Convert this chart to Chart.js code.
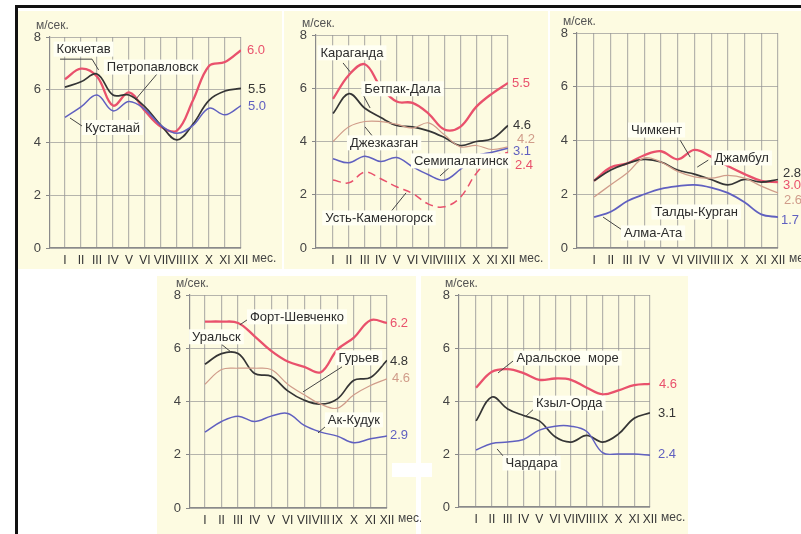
<!DOCTYPE html>
<html><head><meta charset="utf-8">
<script src="https://cdn.jsdelivr.net/npm/chart.js@4"></script>
<style>
html,body{margin:0;padding:0;background:#fff;width:801px;height:534px;overflow:hidden;position:relative;}
.bg{position:absolute;background:#fdfbe1;}
.rule{position:absolute;background:#111;}
canvas{position:absolute;}
</style></head><body>
<div class="rule" style="left:15px;top:5px;width:786px;height:3px"></div>
<div class="rule" style="left:15px;top:5px;width:3px;height:529px"></div>
<div class="bg" style="left:18px;top:11px;width:264px;height:258px"></div>
<div class="bg" style="left:284px;top:11px;width:264px;height:258px"></div>
<div class="bg" style="left:550px;top:11px;width:251px;height:258px"></div>
<div class="bg" style="left:157px;top:276px;width:259px;height:258px"></div>
<div class="bg" style="left:421px;top:276px;width:267px;height:258px"></div>
<div style="position:absolute;left:392px;top:463px;width:40px;height:14px;background:#fff"></div>
<canvas id="p1" width="263" height="256" style="left:20px;top:12px"></canvas>
<canvas id="p2" width="264" height="256" style="left:284px;top:12px"></canvas>
<canvas id="p3" width="252" height="256" style="left:549px;top:12px"></canvas>
<canvas id="p4" width="264" height="258" style="left:157px;top:276px"></canvas>
<canvas id="p5" width="268" height="258" style="left:420px;top:276px"></canvas>
<script>
// Months and value axis
const months = ['I','II','III','IV','V','VI','VII','VIII','IX','X','XI','XII'];
const yTickValues = [0, 2, 4, 6, 8];

// Monthly mean wind speed, m/s
const kokchetav      = [6.4, 6.8, 6.5, 5.4, 5.9, 5.2, 4.6, 4.45, 5.6, 6.9, 7.05, 7.5];
const petropavlovsk  = [6.1, 6.3, 6.6, 5.8, 5.8, 5.35, 4.65, 4.1, 4.7, 5.6, 5.95, 6.05];
const kustanai       = [4.95, 5.35, 5.8, 5.2, 5.55, 5.25, 4.65, 4.35, 4.65, 5.3, 5.05, 5.4];
const means1 = ['6.0', '5.5', '5.0'];

const karaganda      = [5.6, 6.5, 6.9, 6.05, 5.5, 5.45, 5.05, 4.45, 4.55, 5.3, 5.8, 6.2];
const betpakDala     = [5.05, 5.8, 5.25, 4.9, 4.6, 4.55, 4.4, 4.15, 3.85, 4.0, 4.1, 4.6];
const dzhezkazgan    = [4.0, 4.55, 4.75, 4.75, 4.65, 4.5, 4.7, 4.25, 3.8, 3.85, 3.7, 3.8];
const semipalatinsk  = [3.35, 3.2, 3.45, 3.25, 3.4, 3.05, 2.75, 2.55, 2.95, 3.45, 3.6, 3.75];
const ustKamenogorsk = [2.55, 2.45, 2.85, 2.6, 2.3, 2.05, 1.65, 1.55, 1.9, 2.8, 3.4, 3.6];
const means2 = ['5.5', '4.6', '4.2', '3.1', '2.4'];

const chimkent       = [2.5, 3.0, 3.15, 3.45, 3.6, 3.3, 3.65, 3.4, 3.05, 2.75, 2.5, 2.45];
const dzhambul       = [2.5, 2.9, 3.15, 3.3, 3.2, 2.9, 2.75, 2.55, 2.35, 2.55, 2.45, 2.55];
const taldyKurgan    = [1.9, 2.35, 2.8, 3.35, 3.2, 2.85, 2.65, 2.6, 2.7, 2.6, 2.3, 2.05];
const almaAta        = [1.15, 1.35, 1.75, 2.0, 2.2, 2.3, 2.35, 2.25, 2.05, 1.7, 1.25, 1.15];
const means3 = ['2.8', '3.0', '2.6', '1.7'];

const fortShevchenko = [7.0, 7.0, 6.95, 6.45, 5.9, 5.5, 5.3, 5.1, 5.95, 6.4, 7.05, 6.95];
const uralsk         = [5.4, 5.8, 5.8, 5.05, 4.95, 4.4, 4.05, 3.9, 4.1, 4.8, 4.9, 5.55];
const guryev         = [4.65, 5.2, 5.25, 5.25, 5.2, 4.65, 4.25, 3.9, 3.75, 4.25, 4.6, 4.85];
const akKuduk        = [2.85, 3.25, 3.45, 3.25, 3.45, 3.55, 3.1, 2.85, 2.7, 2.45, 2.6, 2.7];
const means4 = ['6.2', '4.8', '4.6', '2.9'];

const aralSea        = [4.5, 5.1, 5.2, 5.05, 4.8, 4.85, 4.8, 4.5, 4.25, 4.4, 4.6, 4.65];
const kzylOrda       = [3.25, 4.15, 3.7, 3.45, 3.25, 2.65, 2.45, 2.7, 2.45, 2.75, 3.35, 3.55];
const chardara       = [2.15, 2.4, 2.45, 2.55, 2.9, 3.05, 3.05, 2.85, 2.05, 2.0, 2.0, 1.95];
const means5 = ['4.6', '3.1', '2.4'];

const RED = '#e9516c', BLACK = '#353535', BLUE = '#6060c0', TAN = '#d09c8a';
const FONT = "'Liberation Sans', Arial, sans-serif";

function series(label, values, color, width, dash) {
  return {
    label, data: values.map((v, i) => ({x: i + 1, y: v})),
    borderColor: color, borderWidth: width, borderDash: dash || [],
    pointRadius: 0, tension: 0.38, fill: false
  };
}

// Station names with leader lines, annual means at line ends, axis captions
function textLayer(notes, ends) {
  return {
    id: 'textLayer',
    afterDatasetsDraw(chart) {
      const {ctx, chartArea: a, scales: {x, y}} = chart;
      ctx.save();
      ctx.textBaseline = 'middle';
      notes.forEach(n => {
        if (n.lead) {
          ctx.beginPath();
          n.lead.forEach((p, i) => {
            const px = x.getPixelForValue(p[0]), py = y.getPixelForValue(p[1]);
            i ? ctx.lineTo(px, py) : ctx.moveTo(px, py);
          });
          ctx.strokeStyle = '#444'; ctx.lineWidth = 1; ctx.stroke();
        }
      });
      ctx.font = '13px ' + FONT;
      notes.forEach(n => {
        const cx = x.getPixelForValue(n.x), cy = y.getPixelForValue(n.y);
        const w = ctx.measureText(n.text).width;
        ctx.fillStyle = '#fffff4';
        ctx.fillRect(cx - w / 2 - 3, cy - 7.5, w + 6, 15);
        ctx.fillStyle = '#2c2c2c';
        ctx.textAlign = 'center';
        ctx.fillText(n.text, cx, cy + 0.5);
      });
      ctx.textAlign = 'left';
      ends.forEach(e => {
        ctx.fillStyle = e.color;
        ctx.fillText(e.text, a.right + e.dx, y.getPixelForValue(e.y));
      });
      ctx.fillStyle = '#444';
      ctx.font = '12px ' + FONT;
      ctx.fillText('мес.', a.right + 11, a.bottom + 10.5);
      ctx.fillStyle = '#555';
      ctx.fillText('м/сек.', a.left - 14, a.top - 11);
      ctx.restore();
    }
  };
}

function panel(id, geom, datasets, notes, ends) {
  const cv = document.getElementById(id);
  const W = cv.width, H = cv.height, XH = 20;
  new Chart(cv, {
    type: 'line',
    data: {datasets},
    plugins: [textLayer(notes, ends)],
    options: {
      responsive: false, animation: false, events: [],
      layout: {padding: {left: 0, right: W - geom.r, top: geom.t, bottom: H - geom.b - XH}},
      plugins: {legend: {display: false}, tooltip: {enabled: false}},
      scales: {
        x: {
          type: 'linear', min: geom.xMin, max: 12,
          afterBuildTicks: s => { s.ticks = months.map((m, i) => ({value: i + 1})); },
          afterFit: s => { s.height = XH; },
          ticks: {
            autoSkip: false, maxRotation: 0, padding: 5, color: '#333',
            font: {family: FONT, size: 12},
            callback: v => months[Math.round(v) - 1]
          },
          grid: {color: 'rgba(150,150,150,0.7)', lineWidth: 1.2, drawTicks: false},
          border: {color: '#8a8a8a', width: 1.2}
        },
        y: {
          min: 0, max: 8,
          afterBuildTicks: s => { s.ticks = yTickValues.map(v => ({value: v})); },
          afterFit: s => { s.width = geom.l; },
          ticks: {padding: 5, color: '#444', font: {family: FONT, size: 13}},
          grid: {color: 'rgba(150,150,150,0.7)', lineWidth: 1, tickLength: 4, tickColor: '#888'},
          border: {color: '#8a8a8a', width: 1.2}
        }
      }
    }
  });
}

panel('p1', {l: 30, r: 221, t: 25, b: 236, xMin: 0.0625}, [
  series('Кустанай', kustanai, BLUE, 1.5),
  series('Петропавловск', petropavlovsk, BLACK, 1.7),
  series('Кокчетав', kokchetav, RED, 2.3)
], [
  {text: 'Кокчетав', x: 2.16, y: 7.54, lead: [[0.69, 7.16], [2.69, 7.16], [3.1, 6.75]]},
  {text: 'Петропавловск', x: 6.47, y: 6.86, lead: [[6.81, 6.64], [5.38, 5.61]]},
  {text: 'Кустанай', x: 3.97, y: 4.57, lead: [[2.25, 4.55], [1.31, 4.93]]}
], [
  {text: means1[0], y: 7.5, dx: 6, color: RED},
  {text: means1[1], y: 6.03, dx: 7, color: BLACK},
  {text: means1[2], y: 5.38, dx: 7, color: BLUE}
]);

panel('p2', {l: 32, r: 224, t: 23, b: 236, xMin: -0.07}, [
  series('Усть-Каменогорск', ustKamenogorsk, RED, 1.5, [8, 5]),
  series('Семипалатинск', semipalatinsk, BLUE, 1.5),
  series('Джезказган', dzhezkazgan, TAN, 1.2),
  series('Бетпак-Дала', betpakDala, BLACK, 1.7),
  series('Караганда', karaganda, RED, 2.3)
], [
  {text: 'Караганда', x: 2.19, y: 7.33, lead: [[1.63, 6.95], [2.07, 6.62]]},
  {text: 'Бетпак-Дала', x: 5.37, y: 5.98, lead: [[2.82, 5.83], [3.33, 5.26]]},
  {text: 'Джезказган', x: 4.21, y: 3.95, lead: [[3.01, 4.55], [3.52, 4.17]]},
  {text: 'Семипалатинск', x: 9.05, y: 3.27, lead: [[8.36, 3.05], [7.73, 2.71]]},
  {text: 'Усть-Каменогорск', x: 3.89, y: 1.13, lead: [[4.58, 1.32], [5.59, 2.07]]}
], [
  {text: means2[0], y: 6.2, dx: 4, color: RED},
  {text: means2[1], y: 4.59, dx: 5, color: BLACK},
  {text: means2[2], y: 4.06, dx: 9, color: TAN},
  {text: means2[3], y: 3.61, dx: 5, color: BLUE},
  {text: means2[4], y: 3.12, dx: 7, color: RED}
]);

panel('p3', {l: 28, r: 229, t: 21, b: 236, xMin: -0.02}, [
  series('Алма-Ата', almaAta, BLUE, 1.8),
  series('Талды-Курган', taldyKurgan, TAN, 1.3),
  series('Джамбул', dzhambul, BLACK, 1.7),
  series('Чимкент', chimkent, RED, 2.3)
], [
  {text: 'Чимкент', x: 4.74, y: 4.39, lead: [[6.15, 4.01], [6.75, 3.38]]},
  {text: 'Джамбул', x: 9.83, y: 3.35, lead: [[7.83, 3.27], [7.17, 3.01]]},
  {text: 'Талды-Курган', x: 7.11, y: 1.34},
  {text: 'Алма-Ата', x: 4.53, y: 0.56, lead: [[2.68, 0.67], [1.54, 1.15]]}
], [
  {text: means3[0], y: 2.79, dx: 5, color: BLACK},
  {text: means3[1], y: 2.34, dx: 5, color: RED},
  {text: means3[2], y: 1.78, dx: 6, color: TAN},
  {text: means3[3], y: 1.04, dx: 3, color: BLUE}
]);

panel('p4', {l: 33, r: 230, t: 19, b: 232, xMin: 0.094}, [
  series('Ак-Кудук', akKuduk, BLUE, 1.5),
  series('Гурьев', guryev, TAN, 1.2),
  series('Уральск', uralsk, BLACK, 1.7),
  series('Форт-Шевченко', fortShevchenko, RED, 2.3)
], [
  {text: 'Форт-Шевченко', x: 6.56, y: 7.18, lead: [[3.72, 7.14], [3.11, 6.88]]},
  {text: 'Уральск', x: 1.69, y: 6.43, lead: [[2.03, 6.13], [2.63, 5.83]]},
  {text: 'Гурьев', x: 10.3, y: 5.64, lead: [[9.28, 5.3], [6.92, 4.36]]},
  {text: 'Ак-Кудук', x: 10.0, y: 3.31, lead: [[8.55, 3.2], [7.83, 2.82]]}
], [
  {text: means4[0], y: 6.92, dx: 3, color: RED},
  {text: means4[1], y: 5.49, dx: 3, color: BLACK},
  {text: means4[2], y: 4.85, dx: 5, color: TAN},
  {text: means4[3], y: 2.74, dx: 3, color: BLUE}
]);

panel('p5', {l: 39, r: 230, t: 19, b: 231, xMin: -0.08}, [
  series('Чардара', chardara, BLUE, 1.5),
  series('Кзыл-Орда', kzylOrda, BLACK, 1.7),
  series('Аральское море', aralSea, RED, 2.3)
], [
  {text: 'Аральское  море', x: 6.79, y: 5.62, lead: [[3.34, 5.51], [2.39, 5.06]]},
  {text: 'Кзыл-Орда', x: 6.89, y: 3.92, lead: [[4.86, 3.81], [4.1, 3.4]]},
  {text: 'Чардара', x: 4.51, y: 1.66, lead: [[3.03, 1.70], [2.33, 2.19]]}
], [
  {text: means5[0], y: 4.64, dx: 9, color: RED},
  {text: means5[1], y: 3.55, dx: 8, color: BLACK},
  {text: means5[2], y: 2.0, dx: 8, color: BLUE}
]);
</script>
</body></html>
